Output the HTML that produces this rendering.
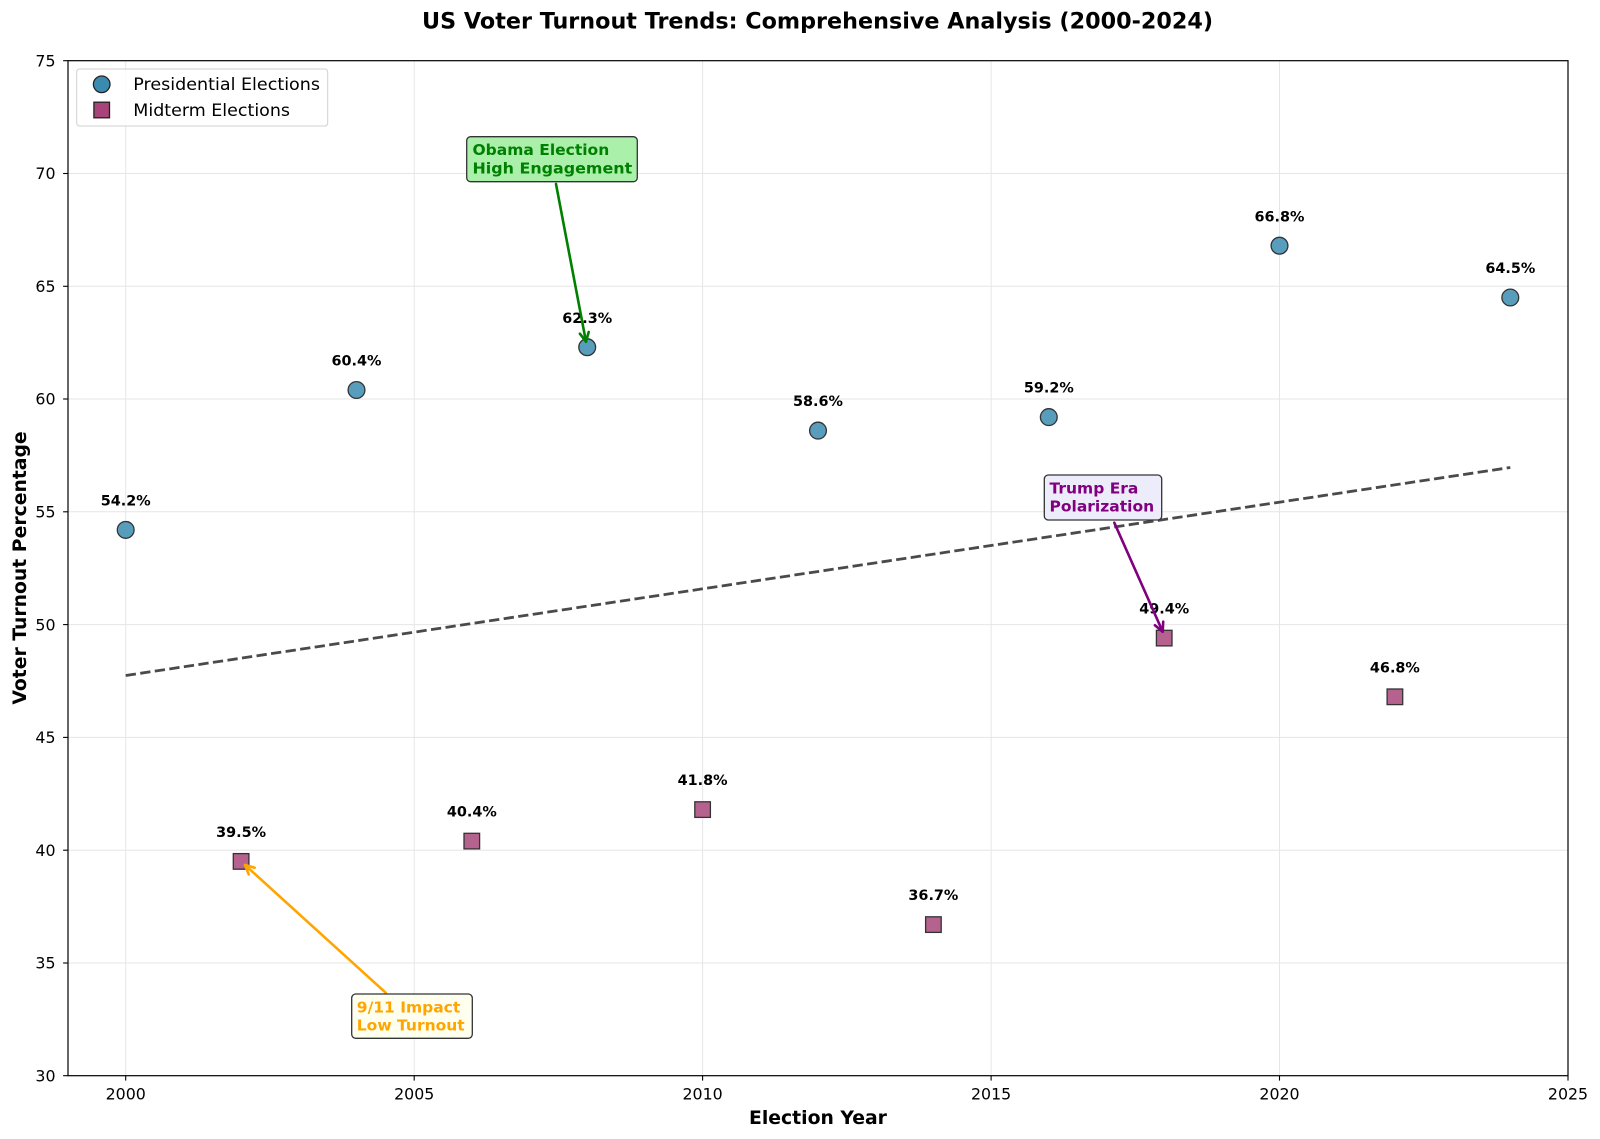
<!DOCTYPE html>
<html>
<head>
<meta charset="utf-8">
<style>
  html, body { margin: 0; padding: 0; background: #ffffff; }
  svg { display: block; }
  text { font-family: "DejaVu Sans", "Liberation Sans", sans-serif; }
</style>
</head>
<body>
<svg width="1600" height="1139" viewBox="0 0 1600 1139" xmlns="http://www.w3.org/2000/svg">
  <rect x="0" y="0" width="1600" height="1139" fill="#ffffff"/>

  <!-- Title -->
  <text x="817.5" y="28.5" text-anchor="middle" font-size="22.5" font-weight="bold" fill="#000" textLength="791" lengthAdjust="spacingAndGlyphs">US Voter Turnout Trends: Comprehensive Analysis (2000-2024)</text>

  <!-- Grid -->
  <g stroke="#e6e6e6" stroke-width="1">
    <line x1="125.7" y1="60.7" x2="125.7" y2="1075.7"/>
    <line x1="414.2" y1="60.7" x2="414.2" y2="1075.7"/>
    <line x1="702.6" y1="60.7" x2="702.6" y2="1075.7"/>
    <line x1="991.1" y1="60.7" x2="991.1" y2="1075.7"/>
    <line x1="1279.5" y1="60.7" x2="1279.5" y2="1075.7"/>
    <line x1="68" y1="173.5" x2="1568" y2="173.5"/>
    <line x1="68" y1="286.3" x2="1568" y2="286.3"/>
    <line x1="68" y1="399.0" x2="1568" y2="399.0"/>
    <line x1="68" y1="511.8" x2="1568" y2="511.8"/>
    <line x1="68" y1="624.6" x2="1568" y2="624.6"/>
    <line x1="68" y1="737.4" x2="1568" y2="737.4"/>
    <line x1="68" y1="850.2" x2="1568" y2="850.2"/>
    <line x1="68" y1="963.0" x2="1568" y2="963.0"/>
  </g>

  <!-- Trend line -->
  <line x1="125.7" y1="675.5" x2="1510.3" y2="467.5" stroke="#4a4a4a" stroke-width="2.8" stroke-dasharray="10.3,4.4"/>

  <!-- Presidential points -->
  <g fill="#589ebc" stroke="#333" stroke-width="1.3">
    <circle cx="125.7" cy="529.9" r="8.4"/>
    <circle cx="356.5" cy="390.0" r="8.4"/>
    <circle cx="587.2" cy="347.2" r="8.4"/>
    <circle cx="818.0" cy="430.6" r="8.4"/>
    <circle cx="1048.8" cy="417.1" r="8.4"/>
    <circle cx="1279.5" cy="245.7" r="8.4"/>
    <circle cx="1510.3" cy="297.5" r="8.4"/>
  </g>

  <!-- Midterm points -->
  <g fill="#b5628e" stroke="#333" stroke-width="1.3">
    <rect x="233.3" y="853.6" width="15.6" height="15.6"/>
    <rect x="464.0" y="833.3" width="15.6" height="15.6"/>
    <rect x="694.8" y="801.8" width="15.6" height="15.6"/>
    <rect x="925.6" y="916.8" width="15.6" height="15.6"/>
    <rect x="1156.4" y="630.3" width="15.6" height="15.6"/>
    <rect x="1387.1" y="689.0" width="15.6" height="15.6"/>
  </g>

  <!-- Data labels -->
  <g font-size="14.4" font-weight="bold" fill="#000" text-anchor="middle">
    <text x="125.7" y="505.5">54.2%</text>
    <text x="356.5" y="365.6">60.4%</text>
    <text x="587.2" y="322.8">62.3%</text>
    <text x="818.0" y="406.2">58.6%</text>
    <text x="1048.8" y="392.7">59.2%</text>
    <text x="1279.5" y="221.3">66.8%</text>
    <text x="1510.3" y="273.1">64.5%</text>
    <text x="241.1" y="837.0">39.5%</text>
    <text x="471.8" y="816.7">40.4%</text>
    <text x="702.6" y="785.2">41.8%</text>
    <text x="933.4" y="900.2">36.7%</text>
    <text x="1164.2" y="613.7">49.4%</text>
    <text x="1394.9" y="672.4">46.8%</text>
  </g>

  <!-- Annotations -->
  <!-- Obama -->
  <g stroke="#008000" stroke-width="2.6" fill="none" stroke-linecap="round" stroke-linejoin="round">
    <line x1="556" y1="184" x2="586" y2="341.7"/>
    <polyline points="579.9,333.7 586,341.7 588.7,332.0"/>
  </g>
  <rect x="466.7" y="136.7" width="170.6" height="45" rx="4" fill="#aaf0aa" stroke="#333" stroke-width="1.3"/>
  <g font-size="15.5" font-weight="bold" fill="#008000">
    <text x="472.5" y="155">Obama Election</text>
    <text x="472.5" y="173.3" textLength="159.7" lengthAdjust="spacingAndGlyphs">High Engagement</text>
  </g>

  <!-- Trump -->
  <g stroke="#800080" stroke-width="2.6" fill="none" stroke-linecap="round" stroke-linejoin="round">
    <line x1="1114.3" y1="522.7" x2="1162.7" y2="631.7"/>
    <polyline points="1154.9,625.3 1162.7,631.7 1163.2,621.7"/>
  </g>
  <rect x="1044.3" y="475" width="117.4" height="45" rx="4" fill="#ececfb" stroke="#333" stroke-width="1.3"/>
  <g font-size="15.5" font-weight="bold" fill="#800080">
    <text x="1049.5" y="493.3">Trump Era</text>
    <text x="1049.5" y="511.7">Polarization</text>
  </g>

  <!-- 9/11 -->
  <g stroke="#FFA500" stroke-width="2.6" fill="none" stroke-linecap="round" stroke-linejoin="round">
    <line x1="385.7" y1="992.7" x2="245" y2="865"/>
    <polyline points="254.7,867.7 245,865 248.7,874.4"/>
  </g>
  <rect x="351.7" y="994" width="120.6" height="44.3" rx="4" fill="#fffff0" stroke="#333" stroke-width="1.3"/>
  <g font-size="15.5" font-weight="bold" fill="#FFA500">
    <text x="356.8" y="1012.3">9/11 Impact</text>
    <text x="356.8" y="1030.7">Low Turnout</text>
  </g>

  <!-- Axes spines -->
  <rect x="68" y="60.7" width="1500" height="1015" fill="none" stroke="#000" stroke-width="1.2"/>

  <!-- Ticks -->
  <g stroke="#000" stroke-width="1.1">
    <line x1="125.7" y1="1075.7" x2="125.7" y2="1080.6"/>
    <line x1="414.2" y1="1075.7" x2="414.2" y2="1080.6"/>
    <line x1="702.6" y1="1075.7" x2="702.6" y2="1080.6"/>
    <line x1="991.1" y1="1075.7" x2="991.1" y2="1080.6"/>
    <line x1="1279.5" y1="1075.7" x2="1279.5" y2="1080.6"/>
    <line x1="1568" y1="1075.7" x2="1568" y2="1080.6"/>
    <line x1="63.1" y1="60.7" x2="68" y2="60.7"/>
    <line x1="63.1" y1="173.5" x2="68" y2="173.5"/>
    <line x1="63.1" y1="286.3" x2="68" y2="286.3"/>
    <line x1="63.1" y1="399.0" x2="68" y2="399.0"/>
    <line x1="63.1" y1="511.8" x2="68" y2="511.8"/>
    <line x1="63.1" y1="624.6" x2="68" y2="624.6"/>
    <line x1="63.1" y1="737.4" x2="68" y2="737.4"/>
    <line x1="63.1" y1="850.2" x2="68" y2="850.2"/>
    <line x1="63.1" y1="963.0" x2="68" y2="963.0"/>
    <line x1="63.1" y1="1075.7" x2="68" y2="1075.7"/>
  </g>

  <!-- X tick labels -->
  <g font-size="15.8" fill="#000" text-anchor="middle">
    <text x="125.7" y="1099.6">2000</text>
    <text x="414.2" y="1099.6">2005</text>
    <text x="702.6" y="1099.6">2010</text>
    <text x="991.1" y="1099.6">2015</text>
    <text x="1279.5" y="1099.6">2020</text>
    <text x="1568" y="1099.6">2025</text>
  </g>

  <!-- Y tick labels -->
  <g font-size="15.8" fill="#000" text-anchor="end">
    <text x="55.5" y="66.4">75</text>
    <text x="55.5" y="179.2">70</text>
    <text x="55.5" y="292.0">65</text>
    <text x="55.5" y="404.7">60</text>
    <text x="55.5" y="517.5">55</text>
    <text x="55.5" y="630.3">50</text>
    <text x="55.5" y="743.1">45</text>
    <text x="55.5" y="855.9">40</text>
    <text x="55.5" y="968.7">35</text>
    <text x="55.5" y="1081.4">30</text>
  </g>

  <!-- Axis labels -->
  <text x="818" y="1124" text-anchor="middle" font-size="18.8" font-weight="bold" fill="#000">Election Year</text>
  <text x="0" y="0" transform="translate(26,568) rotate(-90)" text-anchor="middle" font-size="18.8" font-weight="bold" fill="#000">Voter Turnout Percentage</text>

  <!-- Legend -->
  <rect x="76.7" y="69" width="251" height="57" rx="3" fill="#ffffff" fill-opacity="0.8" stroke="#d0d0d0" stroke-width="1"/>
  <circle cx="101.7" cy="84.3" r="8.3" fill="#3a8bb0" stroke="#222" stroke-width="1.3"/>
  <rect x="93.9" y="102.2" width="15.6" height="15.6" fill="#a8447a" stroke="#222" stroke-width="1.3"/>
  <g font-size="17.2" fill="#000">
    <text x="133.3" y="90.2" textLength="186.7" lengthAdjust="spacingAndGlyphs">Presidential Elections</text>
    <text x="133.3" y="116" textLength="156.7" lengthAdjust="spacingAndGlyphs">Midterm Elections</text>
  </g>
</svg>
</body>
</html>
